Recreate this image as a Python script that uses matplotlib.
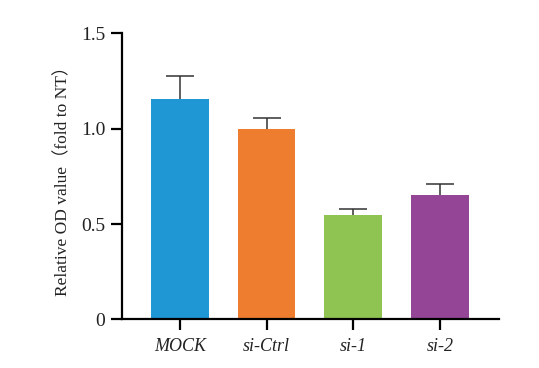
import matplotlib
matplotlib.use("Agg")
import matplotlib.pyplot as plt

categories = ["MOCK", "si-Ctrl", "si-1", "si-2"]
values = [1.154, 0.998, 0.548, 0.651]
errors = [0.124, 0.058, 0.031, 0.059]
colors = ["#1f97d5", "#ef7d30", "#8fc453", "#954595"]
yticks = [0, 0.5, 1.0, 1.5]
yticklabels = ["0", "0.5", "1.0", "1.5"]

fig = plt.figure(figsize=(5.39, 3.68), dpi=100)
ax = fig.add_axes([0.2263, 0.1318, 0.6995, 0.7777])

x = list(range(len(categories)))
ax.bar(x, values, width=0.667, color=colors, zorder=2)
ax.errorbar(x, values, yerr=errors, fmt="none",
            ecolor="#333333", elinewidth=1.1, capsize=10, capthick=1.1, zorder=1)

ax.set_xlim(-0.667, 3.68)
ax.set_ylim(0, 1.5)
ax.set_yticks(yticks)
ax.set_yticklabels(yticklabels, family="Liberation Serif", fontsize=14)
ax.set_xticks(x)
ax.set_xticklabels(categories, family="Liberation Serif", style="italic", fontsize=13)

for s in ["top", "right"]:
    ax.spines[s].set_visible(False)
for s in ["left", "bottom"]:
    ax.spines[s].set_linewidth(1.6)
    ax.spines[s].set_color("black")
ax.tick_params(axis="both", width=1.6, length=8, color="black", labelcolor="#222222")
ax.tick_params(axis="y", pad=4)
ax.tick_params(axis="x", pad=5)

ax.set_ylabel("Relative OD value\uff08fold to NT\uff09",
              family=["Liberation Serif", "Noto Sans CJK SC"], fontsize=12.5,
              color="#222222", labelpad=7)

fig.savefig("out.png", dpi=100)
